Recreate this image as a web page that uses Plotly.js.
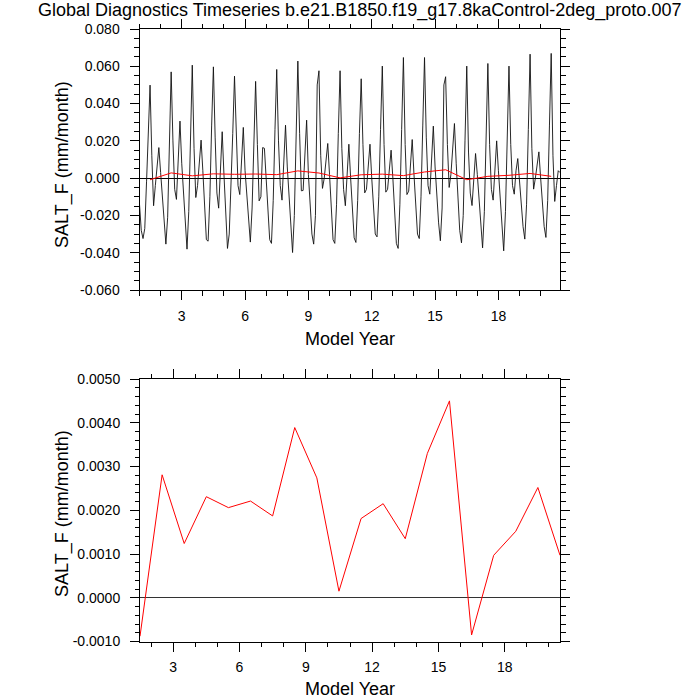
<!DOCTYPE html>
<html>
<head>
<meta charset="utf-8">
<script src="https://cdn.plot.ly/plotly-3.0.1.min.js"></script>
<style>html,body{margin:0;padding:0;background:#fff}#chart{width:700px;height:700px}</style>
</head>
<body>
<div id="chart"></div>
<script>
// ---- data ----
const years = [1,2,3,4,5,6,7,8,9,10,11,12,13,14,15,16,17,18,19,20];
const months = [0,1,2,3,4,5,6,7,8,9,10,11];

// monthly SALT_F (mm/month), 12 values per model year
const monthlySaltF = [
  -0.014, -0.028, -0.0324, -0.027, -0.002, 0.028, 0.0499, 0.012, -0.0148, -0.004, 0.006, 0.0164,   // 1
   0.003, -0.009, -0.024, -0.0354, -0.021, 0.021, 0.0570, 0.020, -0.006, -0.0114, 0.014, 0.0306,   // 2
   0.008, -0.008, -0.026, -0.0381, -0.018, 0.026, 0.0606, 0.016, -0.0104, -0.004, 0.010, 0.0204,   // 3
   0.004, -0.016, -0.0330, -0.0338, -0.010, 0.028, 0.0597, 0.022, -0.008, -0.0161, 0.006, 0.0249, // 4
   0.002, -0.020, -0.0377, -0.030, -0.006, 0.024, 0.0547, 0.022, -0.004, -0.0088, 0.012, 0.0272,   // 5
   0.004, -0.010, -0.024, -0.0343, -0.016, 0.022, 0.0519, 0.018, -0.0122, -0.010, 0.0164, 0.0160, // 6
   0.000, -0.016, -0.033, -0.0350, -0.012, 0.026, 0.0583, 0.020, -0.004, -0.0118, 0.012, 0.0284,   // 7
   0.006, -0.010, -0.026, -0.0399, -0.020, 0.024, 0.0628, 0.024, -0.0068, -0.0066, 0.014, 0.0311,  // 8
   0.002, -0.012, -0.030, -0.0354, -0.020, 0.050, 0.0576, 0.012, -0.0055, 0.000, 0.010, 0.0186,    // 9
   0.002, -0.018, -0.033, -0.0350, -0.014, 0.024, 0.0576, 0.016, -0.006, -0.0148, 0.004, 0.0182,   // 10
   0.000, -0.016, -0.032, -0.0345, -0.012, 0.024, 0.0533, 0.018, -0.0079, -0.006, 0.008, 0.0182,   // 11
   0.000, -0.014, -0.030, -0.0315, -0.010, 0.026, 0.0601, 0.018, -0.0075, -0.006, 0.006, 0.0150,   // 12
   0.000, -0.016, -0.035, -0.0377, -0.014, 0.026, 0.0647, 0.018, -0.0088, -0.007, 0.008, 0.0207,   // 13
   0.002, -0.014, -0.030, -0.0324, -0.010, 0.028, 0.0647, 0.022, -0.004, -0.0086, 0.010, 0.0279,   // 14
   0.006, -0.010, -0.024, -0.0336, -0.016, 0.050, 0.0544, 0.018, -0.005, 0.002, 0.014, 0.0293,     // 15
   0.008, -0.012, -0.028, -0.0347, -0.020, 0.020, 0.0601, 0.014, -0.008, -0.0147, 0.002, 0.0132,   // 16
   0.002, -0.012, -0.028, -0.0374, -0.018, 0.024, 0.0615, 0.018, -0.006, -0.0118, 0.008, 0.0200,   // 17
   0.004, -0.012, -0.028, -0.0390, -0.018, 0.024, 0.0601, 0.018, -0.004, -0.0086, 0.004, 0.0105,   // 18
  -0.002, -0.014, -0.026, -0.0327, -0.014, 0.026, 0.0665, 0.016, -0.0059, 0.000, 0.008, 0.0141,   // 19
   0.000, -0.014, -0.026, -0.0318, -0.012, 0.028, 0.0669, 0.012, -0.0125, -0.004, 0.004, 0.0030    // 20
];

// annual means SALT_F (mm/month), plotted at mid-year
const annualSaltF = [-0.00088, 0.00281, 0.00124, 0.00231, 0.00206, 0.00221, 0.00187, 0.00389, 0.00274, 0.00015,
                      0.00181, 0.00215, 0.00135, 0.00330, 0.00450, -0.00085, 0.00097, 0.00152, 0.00252, 0.00097];

const xTickVals = [3, 6, 9, 12, 15, 18];
const xTickText = ["3", "6", "9", "12", "15", "18"];
const topYTickVals = [-0.06, -0.04, -0.02, 0, 0.02, 0.04, 0.06, 0.08];
const topYTickText = ["-0.060", "-0.040", "-0.020", "0.000", "0.020", "0.040", "0.060", "0.080"];
const botYTickVals = [-0.001, 0, 0.001, 0.002, 0.003, 0.004, 0.005];
const botYTickText = ["-0.0010", "0.0000", "0.0010", "0.0020", "0.0030", "0.0040", "0.0050"];

const titleText = "Global Diagnostics Timeseries b.e21.B1850.f19_g17.8kaControl-2deg_proto.007";
const yTitleText = "SALT_F (mm/month)";
const xTitleText = "Model Year";

// ---- build ----
const monthTime = [];
years.forEach(y => months.forEach(m => monthTime.push(y + m / 12)));
const annualTime = years.map(y => y + 0.5);

const W = 700, H = 700;
const px = v => v / W;
const py = v => 1 - v / H;

const FONT = "Liberation Sans, Arial, Helvetica, sans-serif";

const traces = [
  {x: monthTime, y: monthlySaltF, type: "scatter", mode: "lines", xaxis: "x", yaxis: "y",
   line: {color: "#111111", width: 0.9}, hoverinfo: "skip"},
  {x: annualTime, y: annualSaltF, type: "scatter", mode: "lines", xaxis: "x", yaxis: "y",
   line: {color: "#ff0000", width: 1}, hoverinfo: "skip"},
  {x: annualTime, y: annualSaltF, type: "scatter", mode: "lines", xaxis: "x2", yaxis: "y2",
   line: {color: "#ff0000", width: 1}, hoverinfo: "skip"}
];

function axisCommon() {
  return {
    showline: true, linecolor: "#000", linewidth: 1, mirror: "allticks",
    ticks: "outside", ticklen: 9, tickwidth: 1, tickcolor: "#000",
    showgrid: false, zeroline: false,
    tickfont: {family: FONT, size: 14, color: "#000"},
    fixedrange: true
  };
}

const layout = {
  width: W, height: H,
  margin: {l: 0, r: 0, t: 0, b: 0, pad: 0},
  paper_bgcolor: "#fff", plot_bgcolor: "#fff",
  showlegend: false,
  font: {family: FONT, color: "#000"},
  xaxis: Object.assign(axisCommon(), {
    domain: [px(139.5), px(560)], anchor: "y", range: [1, 20 + 11 / 12],
    tickmode: "array", tickvals: xTickVals, ticktext: xTickText, ticklabelstandoff: 4,
    minor: {ticks: "outside", ticklen: 4.5, tickwidth: 1, tickcolor: "#000", tickmode: "linear", tick0: 0, dtick: 1}
  }),
  yaxis: Object.assign(axisCommon(), {
    domain: [py(290), py(29)], anchor: "x", range: [-0.06, 0.08],
    tickmode: "array", tickvals: topYTickVals, ticktext: topYTickText, ticklabelstandoff: 7,
    zeroline: true, zerolinecolor: "#000", zerolinewidth: 1,
    minor: {ticks: "outside", ticklen: 4.5, tickwidth: 1, tickcolor: "#000", tickmode: "linear", tick0: 0, dtick: 0.005}
  }),
  xaxis2: Object.assign(axisCommon(), {
    domain: [px(140), px(560)], anchor: "y2", range: [1.5, 20.5],
    tickmode: "array", tickvals: xTickVals, ticktext: xTickText, ticklabelstandoff: 4,
    minor: {ticks: "outside", ticklen: 4.5, tickwidth: 1, tickcolor: "#000", tickmode: "linear", tick0: 0, dtick: 1}
  }),
  yaxis2: Object.assign(axisCommon(), {
    domain: [py(641.5), py(379)], anchor: "x2", range: [-0.001, 0.005],
    tickmode: "array", tickvals: botYTickVals, ticktext: botYTickText, ticklabelstandoff: 7,
    zeroline: true, zerolinecolor: "#333", zerolinewidth: 1,
    minor: {ticks: "outside", ticklen: 4.5, tickwidth: 1, tickcolor: "#000", tickmode: "linear", tick0: 0, dtick: 0.0002}
  }),
  annotations: [
    {text: titleText, xref: "paper", yref: "paper", x: px(359), y: py(11), xanchor: "center", yanchor: "middle",
     showarrow: false, font: {family: FONT, size: 18, color: "#000"}},
    {text: yTitleText, xref: "paper", yref: "paper", x: px(62), y: py(164), xanchor: "center", yanchor: "middle",
     textangle: -90, showarrow: false, font: {family: FONT, size: 18, color: "#000"}},
    {text: xTitleText, xref: "paper", yref: "paper", x: px(350), y: py(339), xanchor: "center", yanchor: "middle",
     showarrow: false, font: {family: FONT, size: 18, color: "#000"}},
    {text: yTitleText, xref: "paper", yref: "paper", x: px(62), y: py(513), xanchor: "center", yanchor: "middle",
     textangle: -90, showarrow: false, font: {family: FONT, size: 18, color: "#000"}},
    {text: xTitleText, xref: "paper", yref: "paper", x: px(350), y: py(689), xanchor: "center", yanchor: "middle",
     showarrow: false, font: {family: FONT, size: 18, color: "#000"}}
  ]
};

Plotly.newPlot("chart", traces, layout, {staticPlot: true, displayModeBar: false});
</script>
</body>
</html>
